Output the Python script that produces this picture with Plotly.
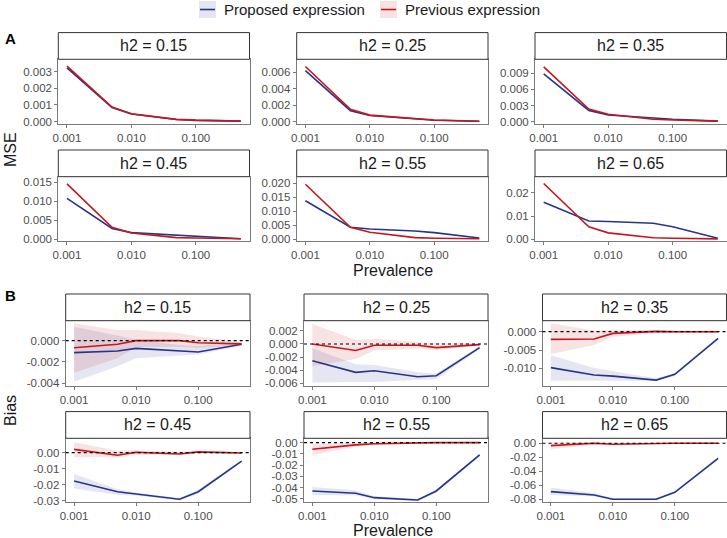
import plotly.graph_objects as go

W, H = 727, 538
FONT = "Liberation Sans, Arial, Helvetica, sans-serif"
BLUE = "#26358B"
RED = "#C8161D"
BLUE_FILL = "rgba(38, 53, 139, 0.12)"
RED_FILL = "rgba(200, 22, 29, 0.12)"
TICK_TXT = "#4d4d4d"
BORDER = "#7a7a7a"

# ---- data ----
prevalence = [0.001, 0.005, 0.01, 0.05, 0.1, 0.5]
h2_values = [0.15, 0.25, 0.35, 0.45, 0.55, 0.65]
series_names = ["Proposed expression", "Previous expression"]
x_tickvals = [0.001, 0.01, 0.1]
x_ticktext = ["0.001", "0.010", "0.100"]

# Panel A: MSE, one list per h2
mse_proposed = [
    [0.00322, 0.00085, 0.00046, 0.00013, 0.00008, 0.00003],
    [0.0062, 0.00134, 0.00075, 0.0003, 0.00018, 0.00005],
    [0.00887, 0.0021, 0.00125, 0.0006, 0.00045, 0.0001],
    [0.0107, 0.0028, 0.0017, 0.001, 0.0008, 0.0001],
    [0.0138, 0.0043, 0.0037, 0.003, 0.0024, 0.0005],
    [0.0159, 0.0079, 0.0077, 0.0069, 0.0054, 0.0005],
]
mse_previous = [
    [0.00333, 0.00088, 0.00047, 0.00014, 0.00009, 0.00004],
    [0.0067, 0.0015, 0.0008, 0.00033, 0.0002, 0.00005],
    [0.0102, 0.00236, 0.00137, 0.00045, 0.0003, 0.0001],
    [0.0145, 0.0031, 0.0016, 0.0004, 0.0003, 0.0001],
    [0.0197, 0.0043, 0.0025, 0.0006, 0.0004, 0.0002],
    [0.024, 0.0054, 0.0028, 0.0007, 0.0005, 0.0002],
]

# Panel B: bias with bands, one list per h2
bias_proposed = [
    [-0.00112, -0.00097, -0.00072, -0.00094, -0.00106, -0.00034],
    [-0.00255, -0.00433, -0.0041, -0.005, -0.00485, -0.00056],
    [-0.0098, -0.0118, -0.0121, -0.0132, -0.0116, -0.0018],
    [-0.0177, -0.0244, -0.0258, -0.0291, -0.0244, -0.0052],
    [-0.0431, -0.0452, -0.0491, -0.0512, -0.0431, -0.011],
    [-0.069, -0.0738, -0.080, -0.080, -0.070, -0.0214],
]
bias_proposed_lo = [
    [-0.00384, -0.0024, -0.00165, -0.0014, -0.0013, -0.0005],
    [-0.0059, -0.0058, -0.0058, -0.0055, -0.0054, -0.0008],
    [-0.0134, -0.0134, -0.0134, -0.0134, -0.0121, -0.0021],
    [-0.0223, -0.0262, -0.0268, -0.0298, -0.0256, -0.0058],
    [-0.047, -0.047, -0.0505, -0.0522, -0.0445, -0.0125],
    [-0.0738, -0.076, -0.0815, -0.0815, -0.0715, -0.0235],
]
bias_proposed_hi = [
    [0.0013, 0.0005, 0.0001, -0.0004, -0.0005, -0.0002],
    [-0.00066, -0.0031, -0.0032, -0.0043, -0.0045, -0.0003],
    [-0.0064, -0.0099, -0.0108, -0.0127, -0.0113, -0.0016],
    [-0.0133, -0.0228, -0.0248, -0.0285, -0.0232, -0.0046],
    [-0.0396, -0.0425, -0.0478, -0.0502, -0.0418, -0.0098],
    [-0.063, -0.0715, -0.0785, -0.0785, -0.0685, -0.0195],
]
bias_previous = [
    [-0.00066, -0.00034, 0.0, 0.0, -0.0002, -0.0003],
    [0.0, -0.001, -0.0002, -0.0002, -0.00056, -0.0001],
    [-0.0021, -0.002, -0.00045, 0.0001, 0.0, 0.0],
    [0.0021, -0.0016, 0.0003, -0.0008, 0.0005, -0.0002],
    [-0.0059, -0.002, -0.001, -0.0003, 0.0, 0.0],
    [-0.0033, 0.0, -0.0015, 0.0, 0.0, 0.0],
]
bias_previous_lo = [
    [-0.003, -0.00165, -0.0006, -0.0006, -0.0007, -0.0004],
    [-0.0034, -0.0023, -0.001, -0.0007, -0.001, -0.0002],
    [-0.0061, -0.0036, -0.0014, -0.0004, -0.0003, -0.0003],
    [-0.0029, -0.0029, -0.0015, -0.0015, -0.0005, -0.0008],
    [-0.011, -0.0036, -0.002, -0.001, -0.0008, -0.0005],
    [-0.0081, -0.0025, -0.0035, -0.0012, -0.001, -0.001],
]
bias_previous_hi = [
    [0.00163, 0.001, 0.001, 0.0007, 0.0004, -0.0001],
    [0.0031, 0.0006, 0.0008, 0.0003, 0.0001, 0.0002],
    [0.0023, 0.0003, 0.0005, 0.0005, 0.0003, 0.0003],
    [0.0065, 0.0012, 0.0017, 0.0005, 0.0012, 0.0004],
    [-0.0009, 0.0, 0.0002, 0.0004, 0.0006, 0.0005],
    [0.0014, 0.0012, -0.0008, 0.0008, 0.0009, 0.0009],
]

# y ticks per facet
mse_yticks = [
    [0, 0.001, 0.002, 0.003],
    [0, 0.002, 0.004, 0.006],
    [0, 0.003, 0.006, 0.009],
    [0, 0.005, 0.010, 0.015],
    [0, 0.005, 0.010, 0.015, 0.020],
    [0, 0.01, 0.02],
]
mse_ydec = [3, 3, 3, 3, 3, 2]
bias_yticks = [
    [-0.004, -0.002, 0],
    [-0.006, -0.004, -0.002, 0, 0.002],
    [-0.015, -0.010, -0.005, 0],
    [-0.03, -0.02, -0.01, 0],
    [-0.05, -0.04, -0.03, -0.02, -0.01, 0],
    [-0.08, -0.06, -0.04, -0.02, 0],
]
bias_ydec = [3, 3, 3, 2, 2, 2]

# ---- layout geometry (pixels) ----
mse_yrange = [[-0.00014, 0.00374], [-0.00028, 0.00758], [-0.00043, 0.0116],
              [-0.0005, 0.0164], [-0.0006, 0.0224], [-0.0007, 0.0269]]
bias_yrange = [[-0.00425, 0.00187], [-0.00642, 0.00356], [-0.0148, 0.003],
               [-0.0306, 0.009], [-0.0527, 0.0039], [-0.0834, 0.0071]]
A_cols = [(58.3, 249.5), (296.7, 488), (535, 726.5)]
B_cols = [(65.7, 250), (304, 488), (542.5, 726.5)]
A_rows = [(59.3, 124), (176.7, 241)]
B_rows = [(320.7, 386), (438.3, 501.7)]
STRIP_H = 26.7
XRANGE = [-3.135, -0.166]


def fx(p):
    return p / W


def fy(p):
    return 1 - p / H


def label(text, x, y, size=16, color="#1a1a1a", **kw):
    d = dict(text=text, xref="paper", yref="paper", x=fx(x), y=fy(y),
             xanchor="center", yanchor="middle", showarrow=False,
             font=dict(size=size, color=color, family=FONT))
    d.update(kw)
    return d


fig = go.Figure()
layout = {}
shapes = []
annotations = []


def add_facet(k, cols, rows, i, yrange, yticks, ydec, lines, bands):
    r, c = divmod(i, 3)
    x0, x1 = cols[c]
    y0, y1 = rows[r]
    xa = "x" if k == 1 else f"x{k}"
    ya = "y" if k == 1 else f"y{k}"

    if bands is not None:
        for (lo, hi), fill in zip(bands, [BLUE_FILL, RED_FILL]):
            fig.add_trace(go.Scatter(
                x=prevalence + prevalence[::-1], y=hi + lo[::-1],
                fill="toself", fillcolor=fill, line=dict(width=0),
                mode="lines", hoverinfo="skip", showlegend=False,
                xaxis=xa, yaxis=ya))
    for vals, color, name in zip(lines, [BLUE, RED], series_names):
        fig.add_trace(go.Scatter(
            x=prevalence, y=vals, mode="lines", name=name,
            line=dict(color=color, width=1.6), showlegend=False,
            xaxis=xa, yaxis=ya))

    axis_common = dict(showgrid=False, zeroline=False, showline=True, mirror=True,
                       linecolor=BORDER, linewidth=1, ticks="outside", ticklen=3,
                       tickcolor=BORDER, automargin=False,
                       tickfont=dict(size=11.5, color=TICK_TXT, family=FONT))
    layout["xaxis" if k == 1 else f"xaxis{k}"] = dict(
        axis_common, type="log", range=XRANGE, domain=[fx(x0), fx(x1)],
        anchor=ya, tickvals=x_tickvals, ticktext=x_ticktext)
    layout["yaxis" if k == 1 else f"yaxis{k}"] = dict(
        axis_common, range=yrange, domain=[fy(y1), fy(y0)], anchor=xa,
        tickvals=yticks, ticktext=[f"{v:.{ydec}f}" for v in yticks])

    # strip
    shapes.append(dict(type="rect", xref="paper", yref="paper",
                       x0=fx(x0), x1=fx(x1), y0=fy(y0), y1=fy(y0 - STRIP_H),
                       fillcolor="white", line=dict(color="#333333", width=1)))
    annotations.append(label(f"h2 = {h2_values[i]:.2f}", (x0 + x1) / 2, y0 - STRIP_H / 2))
    if bands is not None:
        shapes.append(dict(type="line", xref=f"{xa} domain", yref=ya,
                           x0=0, x1=1, y0=0, y1=0,
                           line=dict(color="black", width=1.2, dash="dot")))


for i in range(6):
    add_facet(i + 1, A_cols, A_rows, i, mse_yrange[i], mse_yticks[i], mse_ydec[i],
              [mse_proposed[i], mse_previous[i]], None)
    add_facet(i + 7, B_cols, B_rows, i, bias_yrange[i], bias_yticks[i], bias_ydec[i],
              [bias_proposed[i], bias_previous[i]],
              [(bias_proposed_lo[i], bias_proposed_hi[i]),
               (bias_previous_lo[i], bias_previous_hi[i])])

annotations += [
    label("MSE", 10, 150, textangle=-90),
    label("Bias", 10, 411, textangle=-90),
    label("Prevalence", 392.5, 270),
    label("Prevalence", 392.5, 530),
    label("<b>A</b>", 3, 39, size=15, color="black", xanchor="left"),
    label("<b>B</b>", 3, 295, size=15, color="black", xanchor="left"),
]

# legend drawn by hand to mimic ggplot keys
legend_keys = [(199, BLUE, BLUE_FILL), (380, RED, RED_FILL)]
for (kx, color, fill), name in zip(legend_keys, series_names):
    shapes.append(dict(type="rect", xref="paper", yref="paper",
                       x0=fx(kx), x1=fx(kx + 17), y0=fy(18), y1=fy(1),
                       fillcolor=fill, line=dict(width=0)))
    shapes.append(dict(type="line", xref="paper", yref="paper",
                       x0=fx(kx + 1), x1=fx(kx + 16), y0=fy(9.5), y1=fy(9.5),
                       line=dict(color=color, width=1.6)))
    annotations.append(label(name, kx + 23, 9.5, size=15, xanchor="left"))

fig.update_layout(
    layout,
    width=W, height=H,
    margin=dict(l=0, r=0, t=0, b=0, autoexpand=False),
    paper_bgcolor="white", plot_bgcolor="white",
    shapes=shapes, annotations=annotations,
    showlegend=False,
    font=dict(family=FONT),
)

fig.write_html("out.html",
               config={"displayModeBar": False},
               post_script="document.body.style.margin='0px';"
                           "document.body.style.overflow='hidden';")
